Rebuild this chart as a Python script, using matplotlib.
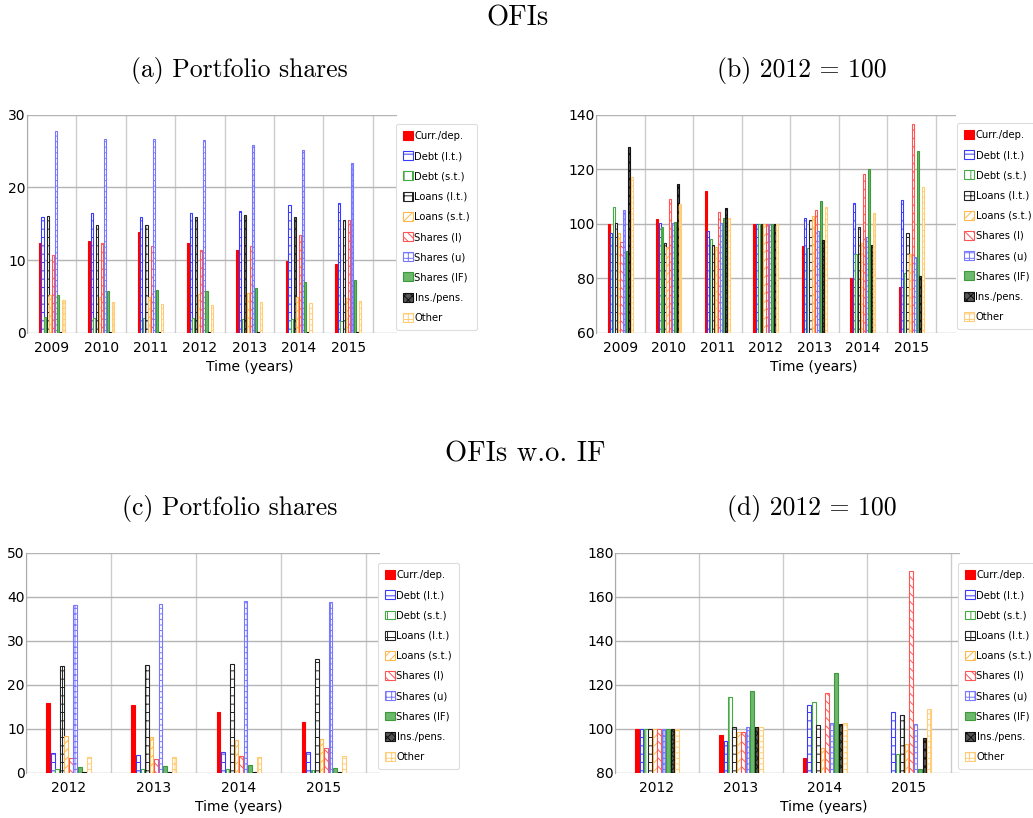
import numpy as np
import matplotlib
matplotlib.use("Agg")
import matplotlib.pyplot as plt

plt.rcParams['font.family'] = ['DejaVu Sans']
plt.rcParams['hatch.linewidth'] = 0.7

# Series names shared by all four panels
series = ["Curr./dep.", "Debt (l.t.)", "Debt (s.t.)", "Loans (l.t.)", "Loans (s.t.)",
          "Shares (l)", "Shares (u)", "Shares (IF)", "Ins./pens.", "Other"]

years_top = ["2009", "2010", "2011", "2012", "2013", "2014", "2015"]
years_bot = ["2012", "2013", "2014", "2015"]

# (a) OFIs, portfolio shares
a_curr = [12.4, 12.6, 13.9, 12.4, 11.4, 9.9, 9.5]
a_debt_lt = [15.9, 16.5, 16.0, 16.5, 16.8, 17.6, 17.8]
a_debt_st = [2.2, 2.1, 2.0, 2.1, 1.9, 1.9, 1.7]
a_loans_lt = [16.1, 14.9, 14.8, 16.0, 16.2, 15.9, 15.5]
a_loans_st = [5.2, 5.0, 5.0, 5.4, 5.5, 5.0, 4.8]
a_shares_l = [10.7, 12.4, 12.0, 11.4, 12.0, 13.4, 15.5]
a_shares_u = [27.8, 26.6, 26.6, 26.5, 25.8, 25.2, 23.3]
a_shares_if = [5.2, 5.8, 5.9, 5.8, 6.2, 7.0, 7.3]
a_ins = [0.2, 0.2, 0.2, 0.2, 0.2, 0.2, 0.2]
a_other = [4.6, 4.2, 4.0, 3.9, 4.2, 4.1, 4.4]

# (b) OFIs, 2012 = 100
b_curr = [100, 101.8, 112, 100, 92, 80.2, 76.8]
b_debt_lt = [96.5, 100.3, 97.5, 100, 102, 107.6, 108.8]
b_debt_st = [106.2, 98.8, 94.4, 100, 91.2, 88.8, 82]
b_loans_lt = [100.2, 93, 92.2, 100, 101.5, 99, 96.7]
b_loans_st = [96.7, 91.5, 91.5, 100, 102.8, 92.8, 89]
b_shares_l = [93.3, 109, 104.4, 100, 105, 118.2, 136.5]
b_shares_u = [105, 100.2, 100.3, 100, 97.3, 95, 88]
b_shares_if = [90, 100.7, 102, 100, 108.4, 120, 126.6]
b_ins = [128.3, 114.5, 105.9, 100, 94.2, 92.2, 81]
b_other = [117.3, 107.3, 102.3, 100, 106.2, 103.9, 113.4]

# (c) OFIs w.o. IF, portfolio shares
c_curr = [15.9, 15.5, 13.8, 11.6]
c_debt_lt = [4.5, 4.2, 4.8, 4.8]
c_debt_st = [0.8, 0.9, 0.9, 0.7]
c_loans_lt = [24.3, 24.5, 24.8, 25.9]
c_loans_st = [8.3, 8.2, 7.6, 7.8]
c_shares_l = [3.3, 3.2, 3.8, 5.6]
c_shares_u = [38.1, 38.4, 39.1, 38.8]
c_shares_if = [1.4, 1.6, 1.8, 1.1]
c_ins = [0.2, 0.2, 0.2, 0.2]
c_other = [3.6, 3.6, 3.7, 3.9]

# (d) OFIs w.o. IF, 2012 = 100
d_curr = [100, 97.5, 86.8, 73]
d_debt_lt = [100, 94.5, 110.8, 107.6]
d_debt_st = [100, 114.6, 112.5, 88.5]
d_loans_lt = [100, 101, 101.9, 106.3]
d_loans_st = [100, 98.5, 91.3, 93.1]
d_shares_l = [100, 98.5, 116.3, 172]
d_shares_u = [100, 100.7, 102.7, 102.1]
d_shares_if = [100, 117.5, 125.5, 81.7]
d_ins = [100, 100.8, 102.1, 96.1]
d_other = [100, 100.8, 102.9, 109.2]

# bar look per series: face, edge, hatch
styles = [
    dict(facecolor="#ff0000", edgecolor="#ff0000", hatch=None),
    dict(facecolor="white", edgecolor="#3a3aff", hatch="--"),
    dict(facecolor="white", edgecolor="#44aa44", hatch="||"),
    dict(facecolor="white", edgecolor="#222222", hatch="++"),
    dict(facecolor="white", edgecolor="#ffb84d", hatch="////"),
    dict(facecolor="white", edgecolor="#ff5555", hatch="\\\\\\\\"),
    dict(facecolor="white", edgecolor="#7777ff", hatch="+++"),
    dict(facecolor="#6cb86c", edgecolor="#3c9a3c", hatch=None),
    dict(facecolor="#555555", edgecolor="#111111", hatch="xxxx"),
    dict(facecolor="white", edgecolor="#ffcc77", hatch="+++"),
]

W, H = 1033, 818
fig = plt.figure(figsize=(W / 100, H / 100), dpi=100)


def px_axes(left, right, top, bottom):
    return fig.add_axes([left / W, 1 - bottom / H, (right - left) / W, (bottom - top) / H])


def draw_panel(ax, cats, data, ylim, yticks, xmax, leg_x, leg_y):
    n = len(cats)
    x = np.arange(n)
    slot = 0.053
    handles = []
    for k, (vals, st) in enumerate(zip(data, styles)):
        h = ax.bar(x + (k - 4.5) * slot, vals, width=slot * 0.82, linewidth=0.8,
                   label=series[k], zorder=3, **st)
        handles.append(h)
    ax.set_xlim(-0.5, xmax)
    ax.set_ylim(*ylim)
    ax.set_yticks(yticks)
    ax.set_xticks(x)
    ax.set_xticklabels(cats)
    ax.set_xticks(np.arange(-0.5, n), minor=True)
    ax.grid(which="major", axis="y", color="#b4b4b4", linewidth=1.0, zorder=0)
    ax.grid(which="minor", axis="x", color="#cccccc", linewidth=1.0, zorder=0)
    ax.tick_params(axis="both", which="both", length=0, labelsize=10)
    ax.tick_params(axis="x", pad=6)
    ax.tick_params(axis="y", pad=1)
    for s in ["top", "right", "bottom"]:
        ax.spines[s].set_visible(False)
    ax.spines["left"].set_color("#aaaaaa")
    leg = ax.legend(handles=handles, loc="upper left", bbox_to_anchor=(leg_x / W, 1 - leg_y / H),
                    bbox_transform=fig.transFigure, fontsize=7.2, frameon=True, fancybox=True,
                    borderaxespad=0, handlelength=1.0, handleheight=1.0, handletextpad=0.15,
                    labelspacing=1.02, borderpad=0.7, edgecolor="#dddddd", framealpha=1)
    leg.get_frame().set_linewidth(0.8)
    leg.set_zorder(10)


ax_a = px_axes(27, 397, 114.7, 333)
draw_panel(ax_a, years_top,
           [a_curr, a_debt_lt, a_debt_st, a_loans_lt, a_loans_st,
            a_shares_l, a_shares_u, a_shares_if, a_ins, a_other],
           (0, 30), [0, 10, 20, 30], 6.99, 396, 124)

ax_b = px_axes(596, 956, 114.7, 333)
draw_panel(ax_b, years_top,
           [b_curr, b_debt_lt, b_debt_st, b_loans_lt, b_loans_st,
            b_shares_l, b_shares_u, b_shares_if, b_ins, b_other],
           (60, 140), [60, 80, 100, 120, 140], 6.92, 957, 123)

ax_c = px_axes(26, 380, 553, 773)
draw_panel(ax_c, years_bot,
           [c_curr, c_debt_lt, c_debt_st, c_loans_lt, c_loans_st,
            c_shares_l, c_shares_u, c_shares_if, c_ins, c_other],
           (0, 50), [0, 10, 20, 30, 40, 50], 3.66, 378, 563)

ax_d = px_axes(615, 960, 553, 773)
draw_panel(ax_d, years_bot,
           [d_curr, d_debt_lt, d_debt_st, d_loans_lt, d_loans_st,
            d_shares_l, d_shares_u, d_shares_if, d_ins, d_other],
           (80, 180), [80, 100, 120, 140, 160, 180], 3.61, 958, 563)

# titles in a LaTeX-like serif
serif = dict(family="cmr10", ha="center", va="center")
fig.text(517 / W, 1 - 18 / H, "OFIs", fontsize=20.5, **serif)
fig.text(239 / W, 1 - 70 / H, "(a) Portfolio shares", fontsize=18.5, **serif)
fig.text(802 / W, 1 - 70 / H, "(b) 2012 = 100", fontsize=18.5, **serif)
fig.text(525 / W, 1 - 454 / H, "OFIs w.o. IF", fontsize=20.5, **serif)
fig.text(230 / W, 1 - 508 / H, "(c) Portfolio shares", fontsize=18.5, **serif)
fig.text(812 / W, 1 - 508 / H, "(d) 2012 = 100", fontsize=18.5, **serif)

# axis labels
for xc, yc in [(250, 367), (814, 367), (239, 807), (824, 807)]:
    fig.text(xc / W, 1 - yc / H, "Time (years)", fontsize=10, ha="center", va="center")

fig.savefig("out.png", dpi=100)
